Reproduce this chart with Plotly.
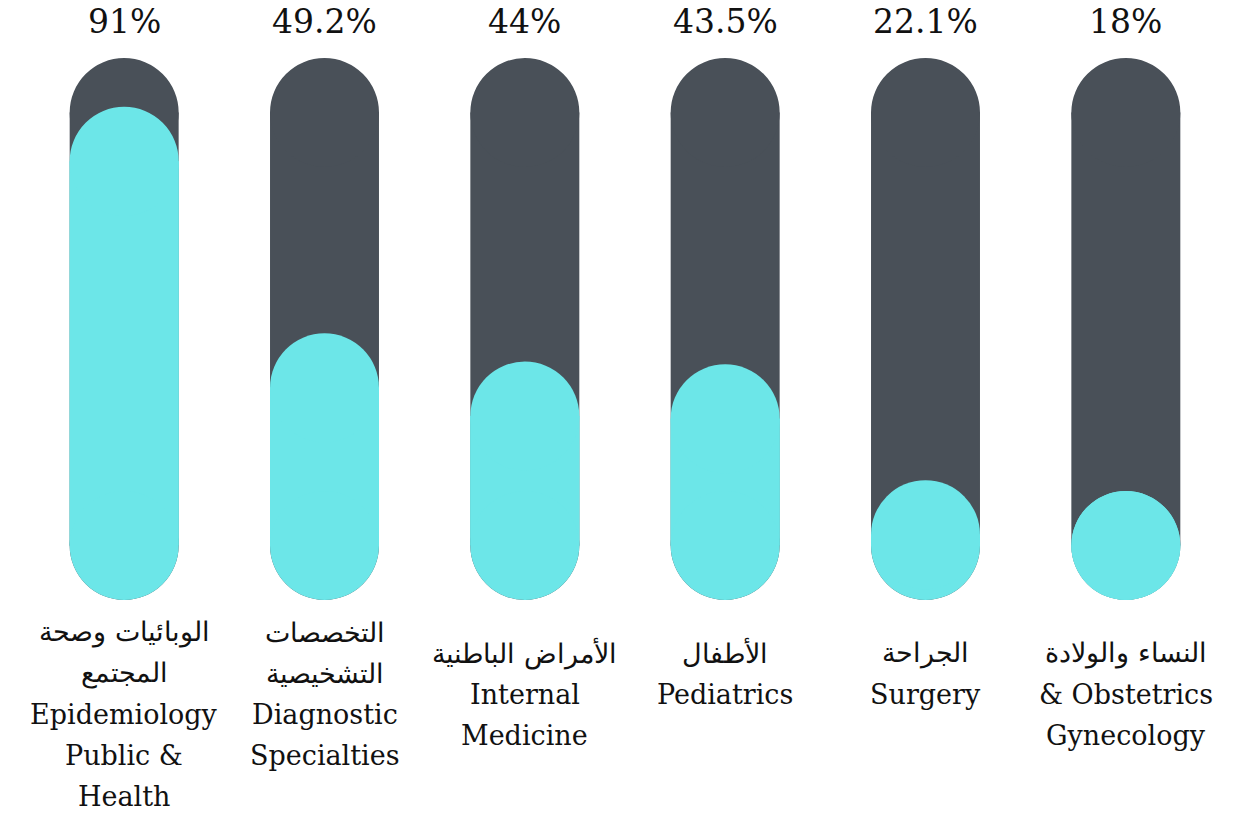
import plotly.graph_objects as go

# data
categories_ar = ["الوبائيات وصحة<br>المجتمع", "التخصصات<br>التشخيصية", "الأمراض الباطنية",
                 "الأطفال", "الجراحة", "النساء والولادة"]
categories_en = ["Epidemiology<br>Public &<br>Health", "Diagnostic<br>Specialties",
                 "Internal<br>Medicine", "Pediatrics", "Surgery", "& Obstetrics<br>Gynecology"]
values = [91, 49.2, 44, 43.5, 22.1, 18]
value_labels = ["91%", "49.2%", "44%", "43.5%", "22.1%", "18%"]

# style / layout (page body adds an 8px offset)
W, H = 1236, 816
OFF = 8
M_L, M_T, M_B = 16, 50, 224
DARK = "#495058"
CYAN = "#6ce6e8"
R = 54.5  # pill radius in px
LINE = 41  # label line spacing in px
label_top = [32, 32, 53, 53, 53, 53]  # first line centre below pill bottom, px

n = len(values)
xs = list(range(n))
plot_w = 200.4 * n
M_R = W - M_L - plot_w
ppu_y = (H - M_T - M_B) / 100.0
ppu_x = plot_w / n
r_u = R / ppu_y
bar_w = 2 * R / ppu_x
fill_h = [max(v, 2 * r_u) for v in values]

fig = go.Figure()
fig.add_trace(go.Bar(x=xs, y=[100 - 2 * r_u] * n, base=[r_u] * n, width=bar_w,
                     marker=dict(color=DARK, line=dict(width=0)), hoverinfo="skip"))
fig.add_trace(go.Bar(x=xs, y=[h - 2 * r_u for h in fill_h], base=[r_u] * n, width=bar_w,
                     marker=dict(color=CYAN, line=dict(width=0)),
                     customdata=value_labels, hovertemplate="%{customdata}<extra></extra>"))


def cap(i, anchor, up, color):
    y0, y1 = (0, 2 * R) if up else (-2 * R, 0)
    return dict(type="circle", xref="x", yref="y", xsizemode="pixel", ysizemode="pixel",
                xanchor=i, yanchor=anchor, x0=-R, x1=R, y0=y0, y1=y1,
                fillcolor=color, line=dict(width=0), layer="above")


shapes = []
for i in xs:
    shapes.append(cap(i, 100, False, DARK))
    shapes.append(cap(i, 0, True, DARK))
for i in xs:
    if fill_h[i] - 2 * r_u > 0:
        shapes.append(dict(type="rect", xref="x", yref="y", xsizemode="pixel",
                           xanchor=i, x0=-R, x1=R, y0=r_u, y1=fill_h[i] - r_u,
                           fillcolor=CYAN, line=dict(width=0), layer="above"))
for i in xs:
    shapes.append(cap(i, 0, True, CYAN))
    shapes.append(cap(i, fill_h[i], False, CYAN))

annotations = []
for i in xs:
    annotations.append(dict(x=i, y=100, xref="x", yref="y", yanchor="middle", yshift=37,
                            text=value_labels[i], showarrow=False,
                            font=dict(size=33, color="#111111", family="DejaVu Serif")))
    lines = categories_ar[i].split("<br>") + categories_en[i].split("<br>")
    for k, line in enumerate(lines):
        annotations.append(dict(x=i, y=0, xref="x", yref="y", yanchor="middle",
                                yshift=-(label_top[i] + k * LINE),
                                text=line, showarrow=False,
                                font=dict(size=27, color="#111111", family="DejaVu Serif")))

fig.update_layout(
    width=W, height=H,
    margin=dict(l=M_L, r=M_R, t=M_T, b=M_B),
    paper_bgcolor="white", plot_bgcolor="white",
    showlegend=False, barmode="overlay",
    shapes=shapes, annotations=annotations,
    xaxis=dict(range=[-0.5, n - 0.5], visible=False, fixedrange=True),
    yaxis=dict(range=[0, 100], visible=False, fixedrange=True),
)

fig.write_html("out.html")
